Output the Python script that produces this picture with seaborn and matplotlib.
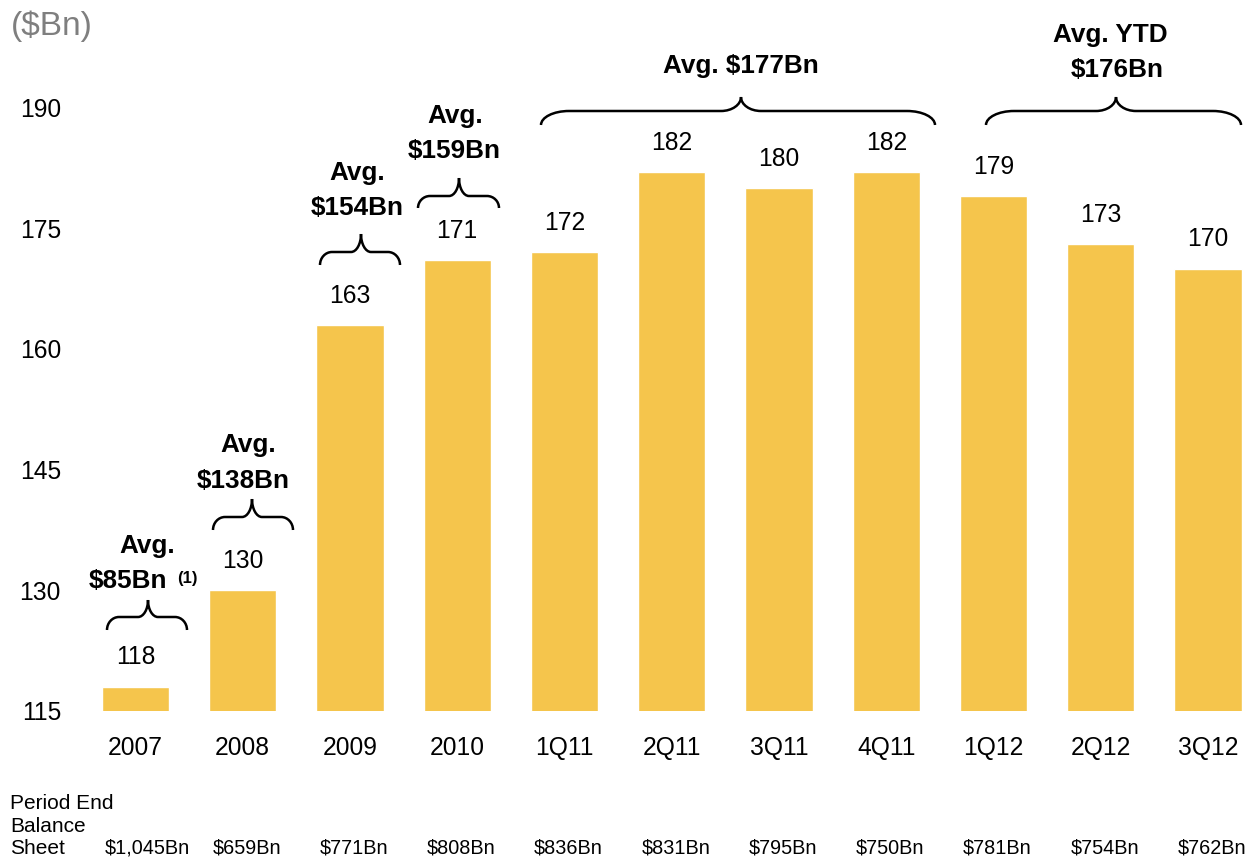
import matplotlib
matplotlib.use("Agg")
import matplotlib.pyplot as plt
import seaborn as sns
from matplotlib.path import Path
from matplotlib.patches import PathPatch

# ---------------- data ----------------
categories = ["2007", "2008", "2009", "2010", "1Q11", "2Q11", "3Q11", "4Q11", "1Q12", "2Q12", "3Q12"]
values = [118, 130, 163, 171, 172, 182, 180, 182, 179, 173, 170]
balance_sheet = ["$1,045Bn", "$659Bn", "$771Bn", "$808Bn", "$836Bn", "$831Bn",
                 "$795Bn", "$750Bn", "$781Bn", "$754Bn", "$762Bn"]
ytick_values = [115, 130, 145, 160, 175, 190]
avg_line1 = ["Avg.", "Avg.", "Avg.", "Avg.", "Avg. $177Bn", "Avg. YTD"]
avg_line2 = ["$85Bn", "$138Bn", "$154Bn", "$159Bn", "", "$176Bn"]
unit_label = "($Bn)"
row_label = ["Period End", "Balance", "Sheet"]

# ---------------- layout helpers (pixel space of the 1247x858 image) ----------------
W, H = 1247, 858
X0, DX = 135.5, 107.25          # px of first bar centre, px per category
YB, DY = 710.7, 8.04            # px of axis bottom, px per unit
YMIN = 115

def xd(px):
    return (px - X0) / DX

def yd(py):
    return YMIN + (YB - py) / DY

sns.set_style("white")
plt.rcParams["font.family"] = ["Liberation Sans", "DejaVu Sans"]
plt.rcParams["text.color"] = "black"
plt.rcParams["xtick.color"] = "black"
plt.rcParams["ytick.color"] = "black"

fig = plt.figure(figsize=(W / 100, H / 100), dpi=100)
ax = fig.add_axes([70 / W, (H - YB) / H, (W - 70) / W, YB / H])

sns.barplot(x=categories, y=values, color="#F5C54C", saturation=1, width=0.625, ax=ax)
ax.set_xlim(xd(70), xd(W))
ax.set_ylim(YMIN, yd(0))
for s in ax.spines.values():
    s.set_visible(False)
ax.set_yticks(ytick_values)
ax.set_yticklabels([str(v) for v in ytick_values], fontsize=17.7)
ax.tick_params(axis="y", length=0, pad=6.5, labelcolor="black")
ax.tick_params(axis="x", length=0, pad=18.5, labelsize=17.7, labelcolor="black")
ax.set_xlabel("")
ax.set_ylabel("")

# value labels
for i, v in enumerate(values):
    ax.annotate(str(v), (i, v), xytext=(0, 21), textcoords="offset points",
                ha="center", va="center", fontsize=17.7, color="black")

# braces
def brace(x0, x1, xc, end, mid, tip, rx, rc):
    k = 0.552
    pts = [
        (x0, end),
        (x0, end - k * (end - mid)), (x0 + rx - k * rx, mid), (x0 + rx, mid),
        (xc - rc, mid),
        (xc - rc + k * rc, mid), (xc, tip + k * (mid - tip)), (xc, tip),
        (xc, tip + k * (mid - tip)), (xc + rc - k * rc, mid), (xc + rc, mid),
        (x1 - rx, mid),
        (x1 - rx + k * rx, mid), (x1, end - k * (end - mid)), (x1, end),
    ]
    codes = [Path.MOVETO,
             Path.CURVE4, Path.CURVE4, Path.CURVE4,
             Path.LINETO,
             Path.CURVE4, Path.CURVE4, Path.CURVE4,
             Path.CURVE4, Path.CURVE4, Path.CURVE4,
             Path.LINETO,
             Path.CURVE4, Path.CURVE4, Path.CURVE4]
    verts = [(xd(px), yd(py)) for px, py in pts]
    ax.add_patch(PathPatch(Path(verts, codes), fill=False, lw=1.8,
                           edgecolor="black", clip_on=False, capstyle="butt"))

brace_px = [  # x0, x1, xc, end, mid, tip, rx, rc
    (107, 187, 148, 630, 617, 600, 12, 10),
    (213, 293, 252, 530, 517, 499, 12, 10),
    (320, 400, 361, 265, 252, 234, 12, 10),
    (418, 499, 459, 208, 196, 178, 12, 10),
    (541, 935, 741, 125, 111, 97, 28, 20),
    (986, 1241, 1116, 125, 111, 97, 28, 20),
]
for b in brace_px:
    brace(*b)

# average annotations (x centre px, baseline px for line 1 / line 2)
ann_px = [
    (147, 553, 128, 588),
    (248, 452, 243, 488),
    (357, 180, 357, 215),
    (455, 123, 454, 158),
    (741, 73, 741, 0),
    (1110, 42, 1117, 77),
]
for (l1, l2), (xa, ya, xb, yb) in zip(zip(avg_line1, avg_line2), ann_px):
    ax.text(xd(xa), yd(ya), l1, ha="center", va="baseline", fontsize=18.8,
            fontweight="bold", clip_on=False)
    if l2:
        ax.text(xd(xb), yd(yb), l2, ha="center", va="baseline", fontsize=18.8,
                fontweight="bold", clip_on=False)
ax.text(xd(177), yd(583), "(1)", ha="left", va="baseline", fontsize=12,
        fontweight="bold", clip_on=False)

# unit label
fig.text(11 / W, 1 - 35 / H, unit_label, ha="left", va="baseline", fontsize=24, color="#7F7F7F")

# bottom rows
for txt, by in zip(row_label, [809, 832, 854]):
    fig.text(10 / W, 1 - by / H, txt, ha="left", va="baseline", fontsize=15)
for i, txt in enumerate(balance_sheet):
    ax.text(i - 0.3125 + 0.03, yd(854), txt, ha="left", va="baseline", fontsize=14.3,
            clip_on=False)

fig.savefig("out.png", dpi=100)
